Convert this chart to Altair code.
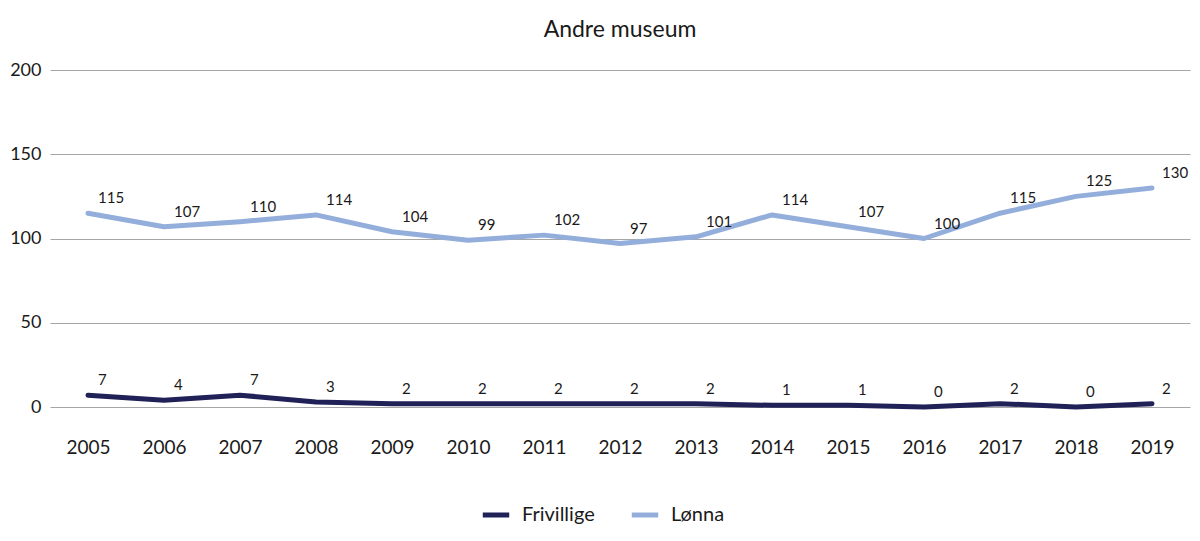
import altair as alt
import pandas as pd

years = [str(y) for y in range(2005, 2020)]
lonna = [115, 107, 110, 114, 104, 99, 102, 97, 101, 114, 107, 100, 115, 125, 130]
frivillige = [7, 4, 7, 3, 2, 2, 2, 2, 2, 1, 1, 0, 2, 0, 2]
series_names = ["Frivillige", "Lønna"]
colors = ["#1f2157", "#94aedb"]

rows = []
for y, v in zip(years, frivillige):
    rows.append({"year": y, "value": v, "series": "Frivillige"})
for y, v in zip(years, lonna):
    rows.append({"year": y, "value": v, "series": "Lønna"})
df = pd.DataFrame(rows)

FONT = "Lato"

x = alt.X("year:O", title=None, scale=alt.Scale(padding=0.5),
          axis=alt.Axis(labelAngle=0, labelFontSize=19, labelColor="#1a1a1a",
                        labelPadding=31, ticks=False, domain=False, grid=False,
                        labelFont=FONT))
y = alt.Y("value:Q", title=None, scale=alt.Scale(domain=[0, 200]),
          axis=alt.Axis(values=[0, 50, 100, 150, 200], labelFontSize=18,
                        labelColor="#1a1a1a", labelPadding=9, ticks=False,
                        domain=False, grid=True, gridColor="#a6a6a6",
                        gridWidth=1.2, labelFont=FONT))

lines = alt.Chart(df).mark_line(strokeWidth=5, strokeCap="round", strokeJoin="round").encode(
    x=x, y=y,
    color=alt.Color("series:N", scale=alt.Scale(domain=series_names, range=colors),
                    legend=alt.Legend(title=None, orient="none", direction="horizontal",
                                      legendX=430, legendY=429,
                                      symbolType="stroke", symbolStrokeWidth=5,
                                      symbolSize=700, labelFontSize=20,
                                      labelFont=FONT, labelColor="#1a1a1a",
                                      labelOffset=10, columnPadding=26)),
)

labels = alt.Chart(df).mark_text(align="left", baseline="bottom", dx=10, dy=-7,
                                 fontSize=15, font=FONT, color="#1a1a1a").encode(
    x="year:O", y="value:Q", text="value:Q"
)

chart = alt.layer(lines, labels).properties(
    width=1140, height=337,
    title=alt.TitleParams("Andre museum", fontSize=23, font=FONT, fontWeight="normal",
                          color="#1a1a1a", anchor="middle", offset=19),
    autosize=alt.AutoSizeParams(type="none"),
    padding={"left": 42, "top": 62, "right": 2, "bottom": 124},
).configure_view(stroke=None)

chart.save("out.html", embed_options={"renderer": "svg", "actions": False})
